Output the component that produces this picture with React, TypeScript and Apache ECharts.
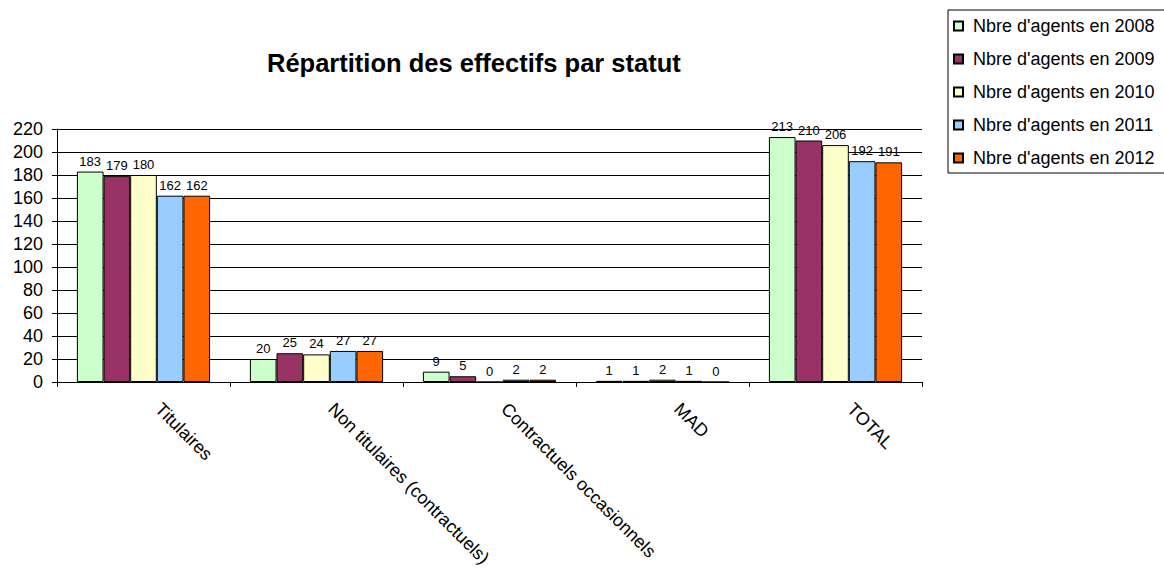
import React, { useEffect, useRef } from "react";
import * as echarts from "echarts";

const categories = [
  "Titulaires",
  "Non titulaires (contractuels)",
  "Contractuels occasionnels",
  "MAD",
  "TOTAL",
];
const seriesNames = [
  "Nbre d'agents en 2008",
  "Nbre d'agents en 2009",
  "Nbre d'agents en 2010",
  "Nbre d'agents en 2011",
  "Nbre d'agents en 2012",
];
const values2008 = [183, 20, 9, 1, 213];
const values2009 = [179, 25, 5, 1, 210];
const values2010 = [180, 24, 0, 2, 206];
const values2011 = [162, 27, 2, 1, 192];
const values2012 = [162, 27, 2, 0, 191];
const seriesValues = [values2008, values2009, values2010, values2011, values2012];
const seriesColors = ["#CCFFCC", "#993366", "#FFFFCC", "#99CCFF", "#FF6600"];

const FONT = "'Liberation Sans', Arial, sans-serif";

export default function App() {
  const ref = useRef<HTMLDivElement>(null);
  useEffect(() => {
    if (!ref.current) return;
    const chart = echarts.init(ref.current, null, { renderer: "svg" });
    chart.setOption({
      animation: false,
      backgroundColor: "#ffffff",
      textStyle: { fontFamily: FONT },
      title: {
        text: "Répartition des effectifs par statut",
        left: 267,
        top: 50,
        padding: 0,
        textStyle: { fontFamily: FONT, fontSize: 25.5, fontWeight: "bold", color: "#000" },
      },
      legend: {
        orient: "vertical",
        left: 948,
        top: 10,
        padding: [6, 20, 5, 5],
        itemGap: 13,
        itemWidth: 9,
        itemHeight: 9,
        borderColor: "#000",
        borderWidth: 1,
        icon: "rect",
        textStyle: {
          fontFamily: FONT,
          fontSize: 18,
          color: "#000",
          lineHeight: 20,
          padding: [0, 0, 0, 5],
        },
        data: seriesNames,
      },
      grid: { left: 57, right: 242, top: 129, bottom: 191, containLabel: false },
      xAxis: {
        type: "category",
        data: categories,
        boundaryGap: true,
        axisLine: { lineStyle: { color: "#000", width: 1 } },
        axisTick: { show: true, length: 5, alignWithLabel: false, lineStyle: { color: "#000" } },
        axisLabel: {
          rotate: -45,
          margin: 22,
          interval: 0,
          verticalAlign: "bottom",
          padding: [0, 0, 0, 12],
          fontFamily: FONT,
          fontSize: 18,
          color: "#000",
        },
      },
      yAxis: {
        type: "value",
        min: 0,
        max: 220,
        interval: 20,
        axisLine: { show: true, lineStyle: { color: "#000", width: 1 } },
        axisTick: { show: true, length: 5, lineStyle: { color: "#000" } },
        axisLabel: { margin: 14, fontFamily: FONT, fontSize: 18, color: "#000" },
        splitLine: { show: true, lineStyle: { color: "#000", width: 1 } },
      },
      series: seriesNames.map((name, i) => ({
        name,
        type: "bar",
        data: seriesValues[i],
        barGap: "0%",
        barCategoryGap: "23%",
        itemStyle: { color: seriesColors[i], borderColor: "#000", borderWidth: 1 },
        label: {
          show: true,
          position: "top",
          distance: 4,
          fontFamily: FONT,
          fontSize: 13,
          color: "#000",
        },
      })),
    });
    return () => chart.dispose();
  }, []);
  return (
    <div
      ref={ref}
      style={{ position: "fixed", left: 0, top: 0, width: 1164, height: 573, background: "#fff" }}
    />
  );
}
